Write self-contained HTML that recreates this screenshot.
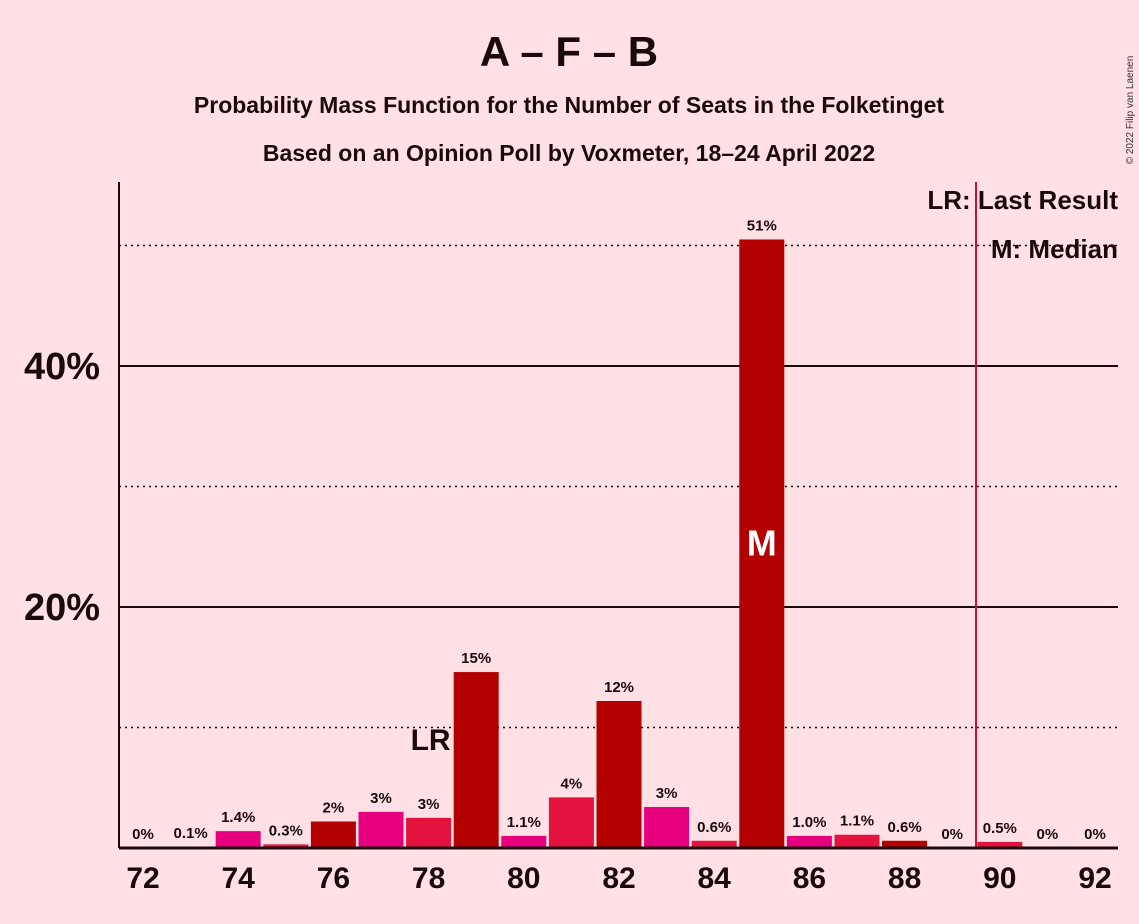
<!DOCTYPE html>
<html><head><meta charset="utf-8"><style>
body{margin:0;background:#ffe0e5;}
svg{display:block;font-family:"Liberation Sans",sans-serif;}
</style></head><body>
<svg id="chart" width="1139" height="924">
<rect width="1139" height="924" fill="#ffe0e5"/>
<text x="569" y="66" text-anchor="middle" font-size="42" font-weight="bold" fill="#1a0a0a">A – F – B</text>
<text x="569" y="113" text-anchor="middle" font-size="23" font-weight="bold" fill="#1a0a0a">Probability Mass Function for the Number of Seats in the Folketinget</text>
<text x="569" y="161" text-anchor="middle" font-size="23" font-weight="bold" fill="#1a0a0a">Based on an Opinion Poll by Voxmeter, 18–24 April 2022</text>
<text x="1133" y="110" font-size="10" fill="#333" transform="rotate(-90 1133 110)" text-anchor="middle">© 2022 Filip van Laenen</text>
<g id="grid"></g>
<g id="bars"></g>
<g id="labels"></g>
<line x1="119" y1="182" x2="119" y2="848" stroke="#1a0a0a" stroke-width="2"/>
<line x1="119" y1="848" x2="1118" y2="848" stroke="#1a0a0a" stroke-width="3"/>
<g id="xticks"></g>
<text x="1118" y="209" text-anchor="end" font-size="26" font-weight="bold" fill="#1a0a0a">LR: Last Result</text>
<text x="1118" y="258" text-anchor="end" font-size="26" font-weight="bold" fill="#1a0a0a">M: Median</text>
</svg>
<script>
const seats=[72,73,74,75,76,77,78,79,80,81,82,83,84,85,86,87,88,89,90,91,92];
const probs=[0,0.1,1.4,0.3,2.2,3.0,2.5,14.6,1.0,4.2,12.2,3.4,0.6,50.5,1.0,1.1,0.6,0,0.5,0,0];
const valueLabels=["0%","0.1%","1.4%","0.3%","2%","3%","3%","15%","1.1%","4%","12%","3%","0.6%","51%","1.0%","1.1%","0.6%","0%","0.5%","0%","0%"];
const yTicks=[20,40];
const yDotted=[10,30,50];
const xTickLabels=[72,74,76,78,80,82,84,86,88,90,92];
const lastResult=78, median=85, majority=89.5;
const NS="http://www.w3.org/2000/svg";
const x=s=>143+(s-72)*47.6;
const y=v=>848-v*12.05;
const colors=["#e3123f","#b30000","#e6007e"];
function mk(tag,attrs,parent){const e=document.createElementNS(NS,tag);for(const k in attrs)e.setAttribute(k,attrs[k]);document.getElementById(parent).appendChild(e);return e;}
yDotted.forEach(v=>{const l=mk('line',{x1:119,x2:1118,y1:y(v),y2:y(v),stroke:'#1a0a0a','stroke-width':1.5,'stroke-dasharray':'2,4'},'grid');

});
yTicks.forEach(v=>{const l=mk('line',{x1:119,x2:1118,y1:y(v),y2:y(v),stroke:'#1a0a0a','stroke-width':2},'grid');


const t=mk('text',{x:100,y:y(v)+13,'text-anchor':'end','font-size':38,'font-weight':'bold',fill:'#1a0a0a'},'grid');t.textContent=v+'%';

});
const ml=mk('line',{x1:x(majority),x2:x(majority),y1:182,y2:848,stroke:'#c8102e','stroke-width':2},'grid');


seats.forEach((s,i)=>{const v=probs[i];
if(v>0){const b=mk('rect',{x:x(s)-22.5,y:y(v),width:45,height:848-y(v),fill:colors[s%3]},'bars');

}
const t=mk('text',{x:x(s),y:y(v)-9,'text-anchor':'middle','font-size':15,'font-weight':'bold',fill:'#1a0a0a'},'labels');t.textContent=valueLabels[i];

});
const lr=mk('text',{x:x(lastResult)+2,y:750,'text-anchor':'middle','font-size':30,'font-weight':'bold',fill:'#1a0a0a'},'labels');lr.textContent='LR';


const mm=mk('text',{x:x(median),y:y(probs[seats.indexOf(median)]/2)+12,'text-anchor':'middle','font-size':36,'font-weight':'bold',fill:'#fff'},'labels');mm.textContent='M';


xTickLabels.forEach(s=>{const t=mk('text',{x:x(s),y:888,'text-anchor':'middle','font-size':30,'font-weight':'bold',fill:'#1a0a0a'},'xticks');t.textContent=s;

});
</script>
</body></html>
